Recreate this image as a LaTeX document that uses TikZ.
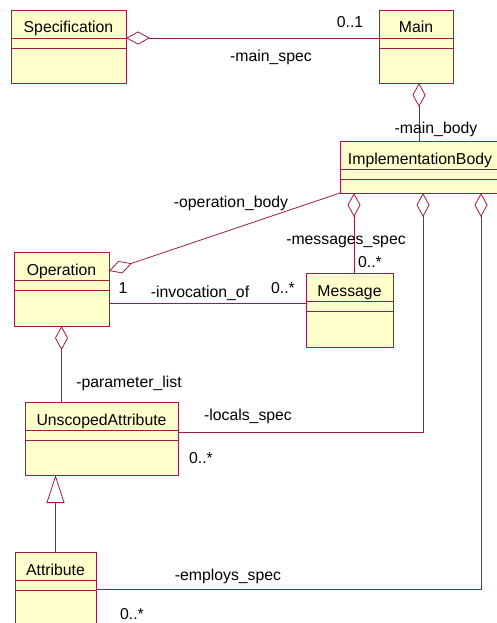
\documentclass[tikz,border=0pt]{standalone}
\usepackage{fontspec}
\setmainfont{Liberation Sans}
\usetikzlibrary{arrows.meta}
\definecolor{umlred}{RGB}{160,25,75}
\definecolor{umlfill}{RGB}{255,255,204}

\begin{document}
\begin{tikzpicture}[x=1pt,y=-1pt,line width=0.8pt,draw=umlred,
        font=\fontsize{15.8}{18}\selectfont]
    \tikzstyle{umlclass}=[rectangle,draw,fill=umlfill,inner sep=0pt,outer sep=0pt,anchor=north west]
    \tikzstyle{classname}=[anchor=base,inner sep=0pt]
    \tikzstyle{role}=[anchor=base,inner sep=0pt]
    \tikzstyle{mult}=[role]
    \tikzstyle{aggr}=[-{Diamond[open,length=24pt,width=13pt]}]
    \tikzstyle{gen}=[-{Triangle[open,length=28pt,width=18pt]}]

    \clip (0,0) rectangle (497,623);

    % Draw the classes
    \foreach \name/\txt/\x/\y/\w/\h in {
            Spec/Specification/11/10/115pt/73pt,
            Main/Main/379/10/74pt/73pt,
            Impl/ImplementationBody/340/141/160pt/52pt,
            Op/Operation/14/252/95pt/74pt,
            Msg/Message/306/273/87pt/74pt,
            UA/UnscopedAttribute/25/402/153pt/73pt,
            Attr/Attribute/15/552/81pt/100pt}
    {
        \node[umlclass,minimum width=\w,minimum height=\h] (\name) at (\x,\y) {};
        \node[classname] (\name-title) at ([yshift=-23pt]\name.north) {\txt};
        \draw ([yshift=-28pt]\name.north west) -- ([yshift=-28pt]\name.north east);
        \draw ([yshift=-38pt]\name.north west) -- ([yshift=-38pt]\name.north east);
    }

    % Connect the classes
    \draw[aggr] ([yshift=-28pt]Main.north west) -- ([yshift=-28pt]Spec.north east);
    \draw[aggr] ([xshift=3pt]Main.south |- Impl.north) -- ([xshift=3pt]Main.south);
    \draw[aggr] (Impl.south west) -- ([yshift=18pt]Op.east);
    \draw ([yshift=-14pt]Op.east) -- ([yshift=-14pt]Op.east -| Msg.west);
    \draw[aggr] ([xshift=14pt]Impl.south west |- Msg.north) -- ([xshift=14pt]Impl.south west);
    \draw[aggr] ([yshift=6pt]UA.east) -| ([xshift=83pt]Impl.south west);
    \draw[aggr] ([yshift=-37pt]Attr.north east) -| ([xshift=141pt]Impl.south west);
    \draw[aggr] (Op.south |- UA.north) -- (Op.south);
    \draw[gen] (Attr.north) -- (Attr.north |- UA.south);

    % Annotate the associations
    \node[mult] (main-mult) at (350,28) {0..1};
    \node[role] (main-spec) at (271,62) {-main\_spec};
    \node[role] (main-body) at (436,133) {-main\_body};
    \node[role] (op-body) at (231,207) {-operation\_body};
    \node[mult] (inv-one) at (123,293) {1};
    \node[role] (inv-of) at (200,297) {-invocation\_of};
    \node[mult] (inv-mult) at (283,293) {0..*};
    \node[role] (msg-spec) at (346,244) {-messages\_spec};
    \node[mult] (msg-mult) at (370,267) {0..*};
    \node[role] (param-list) at (129,387) {-parameter\_list};
    \node[role] (locals-spec) at (248,420) {-locals\_spec};
    \node[mult] (locals-mult) at (201,463) {0..*};
    \node[role] (employs-spec) at (228,580) {-employs\_spec};
    \node[mult] (employs-mult) at (132,619) {0..*};
\end{tikzpicture}
\end{document}
